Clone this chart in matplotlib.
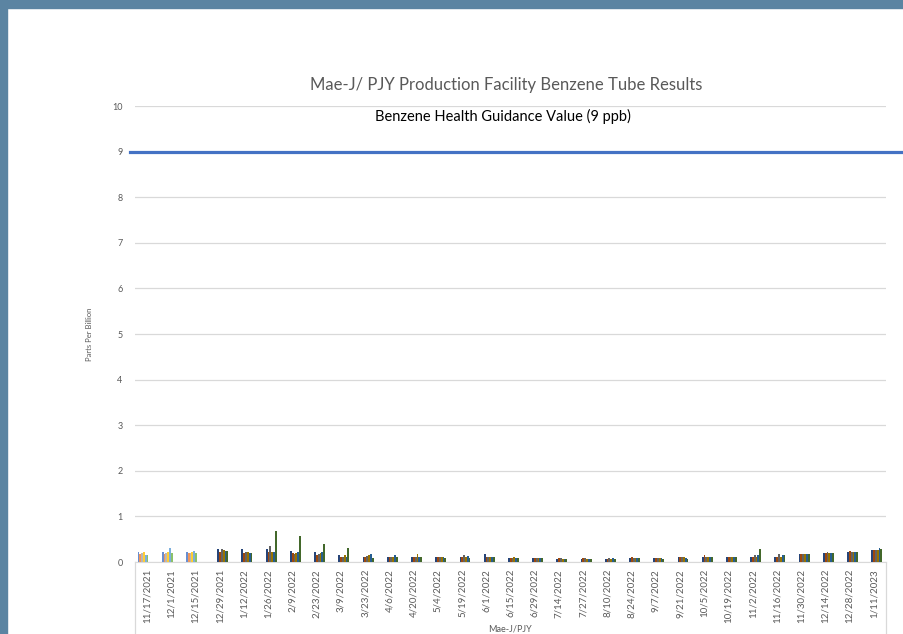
import matplotlib
matplotlib.use('Agg')
import matplotlib.pyplot as plt
import numpy as np
from matplotlib.patches import Rectangle

# sampling dates (category axis)
dates = ['11/17/2021', '12/1/2021', '12/15/2021', '12/29/2021', '1/12/2022', '1/26/2022',
         '2/9/2022', '2/23/2022', '3/9/2022', '3/23/2022', '4/6/2022', '4/20/2022',
         '5/4/2022', '5/19/2022', '6/1/2022', '6/15/2022', '6/29/2022', '7/14/2022',
         '7/27/2022', '8/10/2022', '8/24/2022', '9/7/2022', '9/21/2022', '10/5/2022',
         '10/19/2022', '11/2/2022', '11/16/2022', '11/30/2022', '12/14/2022', '12/28/2022',
         '1/11/2023']

# benzene results per tube (ppb), six tubes per date
tube1 = [0.22, 0.22, 0.22, 0.28, 0.28, 0.28, 0.25, 0.22, 0.15, 0.12, 0.10, 0.12, 0.10, 0.10, 0.18, 0.08,
         0.08, 0.06, 0.06, 0.06, 0.08, 0.08, 0.12, 0.12, 0.11, 0.12, 0.12, 0.18, 0.20, 0.22, 0.27]
tube2 = [0.17, 0.18, 0.19, 0.22, 0.19, 0.22, 0.19, 0.15, 0.10, 0.12, 0.12, 0.12, 0.10, 0.12, 0.10, 0.08,
         0.08, 0.09, 0.08, 0.07, 0.12, 0.08, 0.12, 0.15, 0.10, 0.12, 0.12, 0.18, 0.20, 0.24, 0.26]
tube3 = [0.19, 0.19, 0.20, 0.28, 0.22, 0.34, 0.17, 0.18, 0.10, 0.14, 0.10, 0.12, 0.12, 0.15, 0.12, 0.09,
         0.09, 0.08, 0.09, 0.09, 0.09, 0.08, 0.10, 0.10, 0.12, 0.15, 0.18, 0.18, 0.22, 0.22, 0.26]
tube4 = [0.22, 0.22, 0.22, 0.26, 0.22, 0.22, 0.19, 0.19, 0.15, 0.15, 0.10, 0.18, 0.12, 0.10, 0.12, 0.11,
         0.08, 0.07, 0.06, 0.06, 0.09, 0.08, 0.10, 0.10, 0.12, 0.12, 0.12, 0.18, 0.20, 0.22, 0.26]
tube5 = [0.15, 0.31, 0.25, 0.24, 0.20, 0.22, 0.22, 0.22, 0.10, 0.18, 0.15, 0.12, 0.10, 0.13, 0.12, 0.08,
         0.09, 0.06, 0.06, 0.08, 0.09, 0.08, 0.08, 0.10, 0.11, 0.15, 0.15, 0.18, 0.20, 0.22, 0.30]
tube6 = [0.15, 0.19, 0.19, 0.24, 0.19, 0.68, 0.56, 0.40, 0.31, 0.09, 0.11, 0.12, 0.09, 0.09, 0.12, 0.08,
         0.08, 0.06, 0.06, 0.06, 0.08, 0.07, 0.06, 0.10, 0.11, 0.28, 0.15, 0.18, 0.20, 0.22, 0.29]
guidance = 9

light_cols = ['#698ED0', '#F1975A', '#B7B7B7', '#FFCD33', '#7CAFDD', '#8CC168']
dark_cols = ['#264478', '#9E480E', '#636363', '#997300', '#255E91', '#43682B']

fig = plt.figure(figsize=(9.04, 6.34), dpi=100)
fig.patch.set_facecolor('white')
# blue-grey frame at top and left
fig.patches.append(Rectangle((0, 1 - 8 / 634), 1, 8 / 634, transform=fig.transFigure,
                             color='#5B84A2', zorder=0))
fig.patches.append(Rectangle((0, 0), 7 / 904, 1, transform=fig.transFigure,
                             color='#5B84A2', zorder=0))

ax = fig.add_axes([135 / 904, 1 - 562 / 634, 751 / 904, 456 / 634])

tubes = [tube1, tube2, tube3, tube4, tube5, tube6]
x = np.arange(len(dates))
w = 0.075
for k, vals in enumerate(tubes):
    for i, v in enumerate(vals):
        if i < 3:
            cols, shift = light_cols, -0.17
        else:
            cols, shift = dark_cols, 0.12
        ax.bar(x[i] + shift + (k - 2.5) * w, v, w, color=cols[k], zorder=3)

# guidance line runs past the plot area
ax.plot([-0.007, 1.024], [guidance, guidance], transform=ax.get_yaxis_transform(),
        color='#4472C4', lw=2.3, clip_on=False, zorder=4)
ax.text(0.49, 9.76, 'Benzene Health Guidance Value (9 ppb)', ha='center', va='center',
        fontsize=10.5, family='Lato', color='black', transform=ax.get_yaxis_transform())

ax.set_xlim(-0.5, len(dates) - 0.5)
ax.set_ylim(0, 10)
ax.set_yticks(range(0, 11))
ax.grid(axis='y', color='#D9D9D9', lw=0.9, zorder=0)
ax.tick_params(axis='y', length=0, labelsize=6.5, labelcolor='#595959', pad=9)
ax.set_xticks(x)
ax.set_xticklabels(dates, rotation=90, fontsize=7, color='#595959', family='Lato')
ax.tick_params(axis='x', length=0, pad=5)
for lab in ax.get_yticklabels():
    lab.set_family('Lato')
for s in ['top', 'right', 'left']:
    ax.spines[s].set_visible(False)
ax.spines['bottom'].set_color('#D9D9D9')

# box lines down the sides of the label area
for xx in [0, 1]:
    ax.plot([xx, xx], [0, -0.16], transform=ax.transAxes, color='#D9D9D9', lw=0.9, clip_on=False)

ax.set_ylabel('Parts Per Billion', fontsize=5.5, color='#595959', family='Lato', labelpad=14)
ax.set_xlabel('Mae-J/PJY', fontsize=6.5, color='#595959', family='Lato', labelpad=0.5)
fig.text(506 / 904, 1 - 85 / 634, 'Mae-J/ PJY Production Facility Benzene Tube Results',
         ha='center', va='center', fontsize=12, color='#595959', family='Lato')

plt.savefig('out.png', dpi=100)
